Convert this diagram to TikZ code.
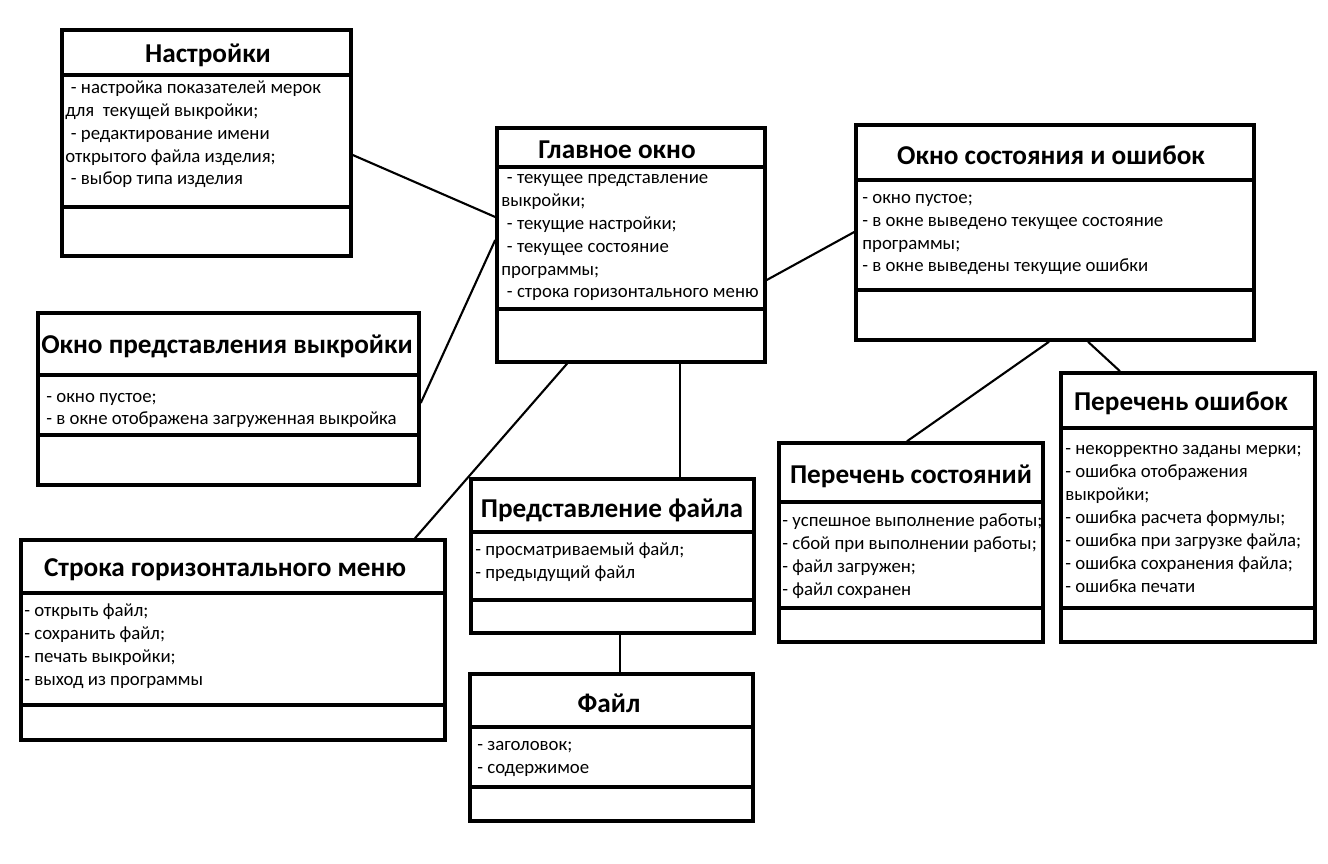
\documentclass[tikz,border=0pt]{standalone}
\usepackage{fontspec}
\setmainfont{Carlito}
\usetikzlibrary{fit}

\tikzset{
  box/.style={draw, line width=2pt, inner sep=0pt},
  sepline/.style={line width=2pt},
  link/.style={line width=1.2pt},
  title/.style={font=\bfseries\fontsize{15.5}{18}\selectfont},
  body/.style={font=\fontsize{10.7}{13}\selectfont, align=left, anchor=base west, inner sep=0pt},
}

\begin{document}
\begin{tikzpicture}[x=0.02cm, y=-0.02cm]
    \useasboundingbox (0,0) rectangle (1328,864);

    % Settings
    \node[box, fit={(62,30) (351,256)}] (nastr) {};
    \draw[sepline] (nastr.west |- 0,75) -- (nastr.east |- 0,75);
    \draw[sepline] (nastr.west |- 0,207) -- (nastr.east |- 0,207);
    \node[title] (nastr-t) at (208,55) {Настройки};
    \node[body] (nastr-b) at (65,185) {\hspace*{.3em}- настройка показателей мерок\\
        для\ \ текущей выкройки;\\
        \hspace*{.3em}- редактирование имени\\
        открытого файла изделия;\\
        \hspace*{.3em}- выбор типа изделия};

    % Main window
    \node[box, fit={(497,128) (765,362)}] (glav) {};
    \draw[sepline] (glav.west |- 0,167) -- (glav.east |- 0,167);
    \draw[sepline] (glav.west |- 0,309) -- (glav.east |- 0,309);
    \node[title] (glav-t) at (617,150) {Главное окно};
    \node[body] (glav-b) at (501,298) {\hspace*{.3em}- текущее представление\\
        выкройки;\\
        \hspace*{.3em}- текущие настройки;\\
        \hspace*{.3em}- текущее состояние\\
        программы;\\
        \hspace*{.3em}- строка горизонтального меню};

    % Status and error window
    \node[box, fit={(856,125) (1254,340)}] (sost) {};
    \draw[sepline] (sost.west |- 0,180) -- (sost.east |- 0,180);
    \draw[sepline] (sost.west |- 0,290) -- (sost.east |- 0,290);
    \node[title] (sost-t) at (1051,155) {Окно состояния и ошибок};
    \node[body] (sost-b) at (862,272) {- окно пустое;\\
        - в окне выведено текущее состояние\\
        программы;\\
        - в окне выведены текущие ошибки};

    % Pattern view window
    \node[box, fit={(38,313) (419,485)}] (vykr) {};
    \draw[sepline] (vykr.west |- 0,375) -- (vykr.east |- 0,375);
    \draw[sepline] (vykr.west |- 0,435) -- (vykr.east |- 0,435);
    \node[title] (vykr-t) at (227,346) {Окно представления выкройки};
    \node[body] (vykr-b) at (46,425) {- окно пустое;\\
        - в окне отображена загруженная выкройка};

    % Menu bar
    \node[box, fit={(21,540) (445,740)}] (menu) {};
    \draw[sepline] (menu.west |- 0,593) -- (menu.east |- 0,593);
    \draw[sepline] (menu.west |- 0,705) -- (menu.east |- 0,705);
    \node[title] (menu-t) at (225,570) {Строка горизонтального меню};
    \node[body] (menu-b) at (24,685) {- открыть файл;\\
        - сохранить файл;\\
        - печать выкройки;\\
        - выход из программы};

    % File view
    \node[box, fit={(471,479) (754,633)}] (pfile) {};
    \draw[sepline] (pfile.west |- 0,532) -- (pfile.east |- 0,532);
    \draw[sepline] (pfile.west |- 0,600) -- (pfile.east |- 0,600);
    \node[title] (pfile-t) at (612,510) {Представление файла};
    \node[body] (pfile-b) at (475,578) {- просматриваемый файл;\\
        - предыдущий файл};

    % File
    \node[box, fit={(470,674) (753,821)}] (file) {};
    \draw[sepline] (file.west |- 0,727) -- (file.east |- 0,727);
    \draw[sepline] (file.west |- 0,787) -- (file.east |- 0,787);
    \node[title] (file-t) at (609,703) {Файл};
    \node[body] (file-b) at (477,773) {- заголовок;\\
        - содержимое};

    % Status list
    \node[box, fit={(779,443) (1043,642)}] (sostlist) {};
    \draw[sepline] (sostlist.west |- 0,502) -- (sostlist.east |- 0,502);
    \draw[sepline] (sostlist.west |- 0,608) -- (sostlist.east |- 0,608);
    \node[title] (sostlist-t) at (911,476) {Перечень состояний};
    \node[body] (sostlist-b) at (782,595) {- успешное выполнение работы;\\
        - сбой при выполнении работы;\\
        - файл загружен;\\
        - файл сохранен};

    % Error list
    \node[box, fit={(1061,373) (1315,642)}] (errlist) {};
    \draw[sepline] (errlist.west |- 0,428) -- (errlist.east |- 0,428);
    \draw[sepline] (errlist.west |- 0,608) -- (errlist.east |- 0,608);
    \node[title] (errlist-t) at (1181,403) {Перечень ошибок};
    \node[body] (errlist-b) at (1065,592) {- некорректно заданы мерки;\\
        - ошибка отображения\\
        выкройки;\\
        - ошибка расчета формулы;\\
        - ошибка при загрузке файла;\\
        - ошибка сохранения файла;\\
        - ошибка печати};

    % Links
    \draw[link] (nastr.east |- 0,155) -- (glav.west |- 0,217);
    \draw[link] (vykr.east |- 0,403) -- (glav.west |- 0,240);
    \draw[link] (menu.north -| 415,0) -- (glav.south -| 567,0);
    \draw[link] (glav.south -| 680,0) -- (pfile.north -| 680,0);
    \draw[link] (glav.east |- 0,280) -- (sost.west |- 0,232);
    \draw[link] (sost.south -| 1049,0) -- (sostlist.north -| 907,0);
    \draw[link] (sost.south -| 1088,0) -- (errlist.north -| 1120,0);
    \draw[link] (pfile.south -| 620,0) -- (file.north -| 620,0);
\end{tikzpicture}
\end{document}
